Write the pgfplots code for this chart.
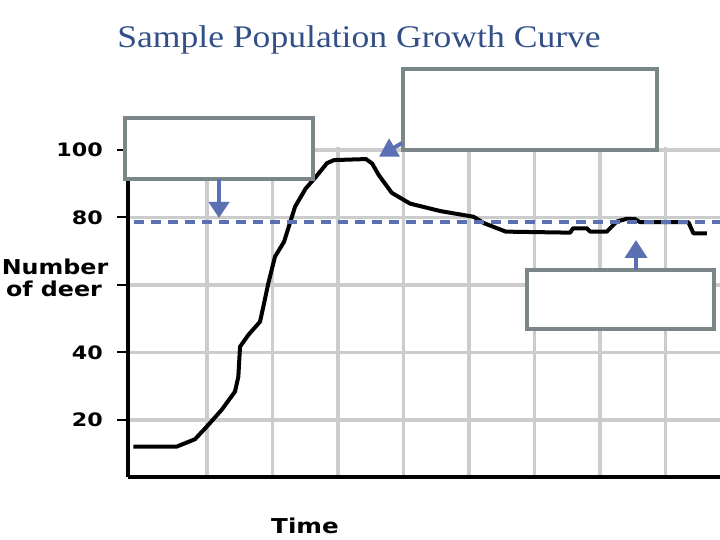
\documentclass[border=0pt]{standalone}
\usepackage{graphicx}
\usepackage{pgfplots}
\pgfplotsset{compat=1.18}
\usepackage{fontspec}
\usetikzlibrary{arrows.meta}
\newfontfamily\labfont{DejaVu Sans}
\newfontfamily\titlefont{Liberation Serif}
\definecolor{titleblue}{RGB}{50,80,135}
\definecolor{dblue}{RGB}{90,112,178}
\definecolor{boxgray}{RGB}{122,134,136}
\definecolor{gridgray}{RGB}{204,204,204}
\newcommand{\tl}[1]{\scalebox{1.2}[1]{#1}}
\begin{document}
\begin{tikzpicture}
\path[use as bounding box] (0,0) rectangle (720pt,540pt);
\begin{axis}[
  at={(128pt,63pt)}, anchor=south west,
  scale only axis, width=592pt, height=330.4pt,
  xmin=-0.206, xmax=8.83, ymin=3.1, ymax=101,
  axis x line=bottom, axis y line=left,
  axis line style={-, line width=3.5pt, black},
  xtick={1,2,3,4,5,6,7,8}, xticklabels={},
  ytick={20,40,60,80,100}, yticklabels={\tl{20},\tl{40},,\tl{80},\tl{100}},
  xmajorgrids, ymajorgrids,
  major grid style={line width=3.5pt, color=gridgray},
  xtick style={draw=none},
  ytick style={line width=2pt, black},
  tick align=outside, major tick length=11pt,
  yticklabel style={font=\labfont\bfseries\fontsize{18.5}{18.5}\selectfont, inner sep=1pt, xshift=-13pt},
]
\addplot[black, line width=4pt, line join=round] coordinates {
(-0.125,12.1) (0.537,12.1) (0.817,14.3) (0.995,18.0) (1.224,23.0)
(1.427,28.4) (1.478,32.8) (1.504,41.7) (1.631,45.2) (1.809,49.1)
(1.860,53.6) (1.936,60.5) (2.038,68.4) (2.176,72.8) (2.344,83.2)
(2.507,88.6) (2.643,91.6) (2.832,96.1) (2.939,97.0) (3.427,97.3)
(3.52,96.0) (3.62,92.6) (3.82,87.3) (4.10,84.1) (4.56,81.9)
(5.070,80.2) (5.229,78.3) (5.560,75.8) (6.542,75.5) (6.588,76.8)
(6.797,76.8) (6.847,75.8) (7.102,75.8) (7.255,78.8) (7.408,79.6)
(7.534,79.5) (7.611,78.6) (8.348,78.6) (8.424,75.3) (8.629,75.3)
};
\addplot[dblue, line width=4pt, dash pattern=on 10pt off 7pt] coordinates {(-0.12,78.6) (8.83,78.6)};
\end{axis}
% annotation boxes
\draw[boxgray, line width=3.5pt, fill=white] (125pt,361pt) rectangle (313pt,422pt);
\draw[boxgray, line width=3.5pt, fill=white] (403pt,390pt) rectangle (657pt,471pt);
\draw[boxgray, line width=3.5pt, fill=white] (527pt,211pt) rectangle (714pt,270pt);
% arrows
\draw[dblue, line width=4pt, -{Triangle[width=20pt,length=16pt]}] (219pt,361pt) -- (219pt,322pt);
\draw[dblue, line width=4pt, -{Triangle[width=20pt,length=18pt]}] (402pt,397pt) -- (379pt,383.3pt);
\draw[dblue, line width=4pt, -{Triangle[width=22pt,length=18pt]}] (636pt,270pt) -- (636pt,300pt);
% texts
\node[anchor=base, font=\titlefont\fontsize{31.5}{31.5}\selectfont, text=titleblue, inner sep=0pt, xscale=1.13] at (359pt,492pt) {Sample Population Growth Curve};
\node[anchor=base, font=\labfont\bfseries\fontsize{20.5}{20.5}\selectfont, xscale=1.16, inner sep=0pt] at (55pt,265pt) {Number};
\node[anchor=base, font=\labfont\bfseries\fontsize{20.5}{20.5}\selectfont, xscale=1.16, inner sep=0pt] at (54pt,243pt) {of deer};
\node[anchor=base, font=\labfont\bfseries\fontsize{20.5}{20.5}\selectfont, xscale=1.2, inner sep=0pt] at (305pt,6pt) {Time};
\end{tikzpicture}
\end{document}
